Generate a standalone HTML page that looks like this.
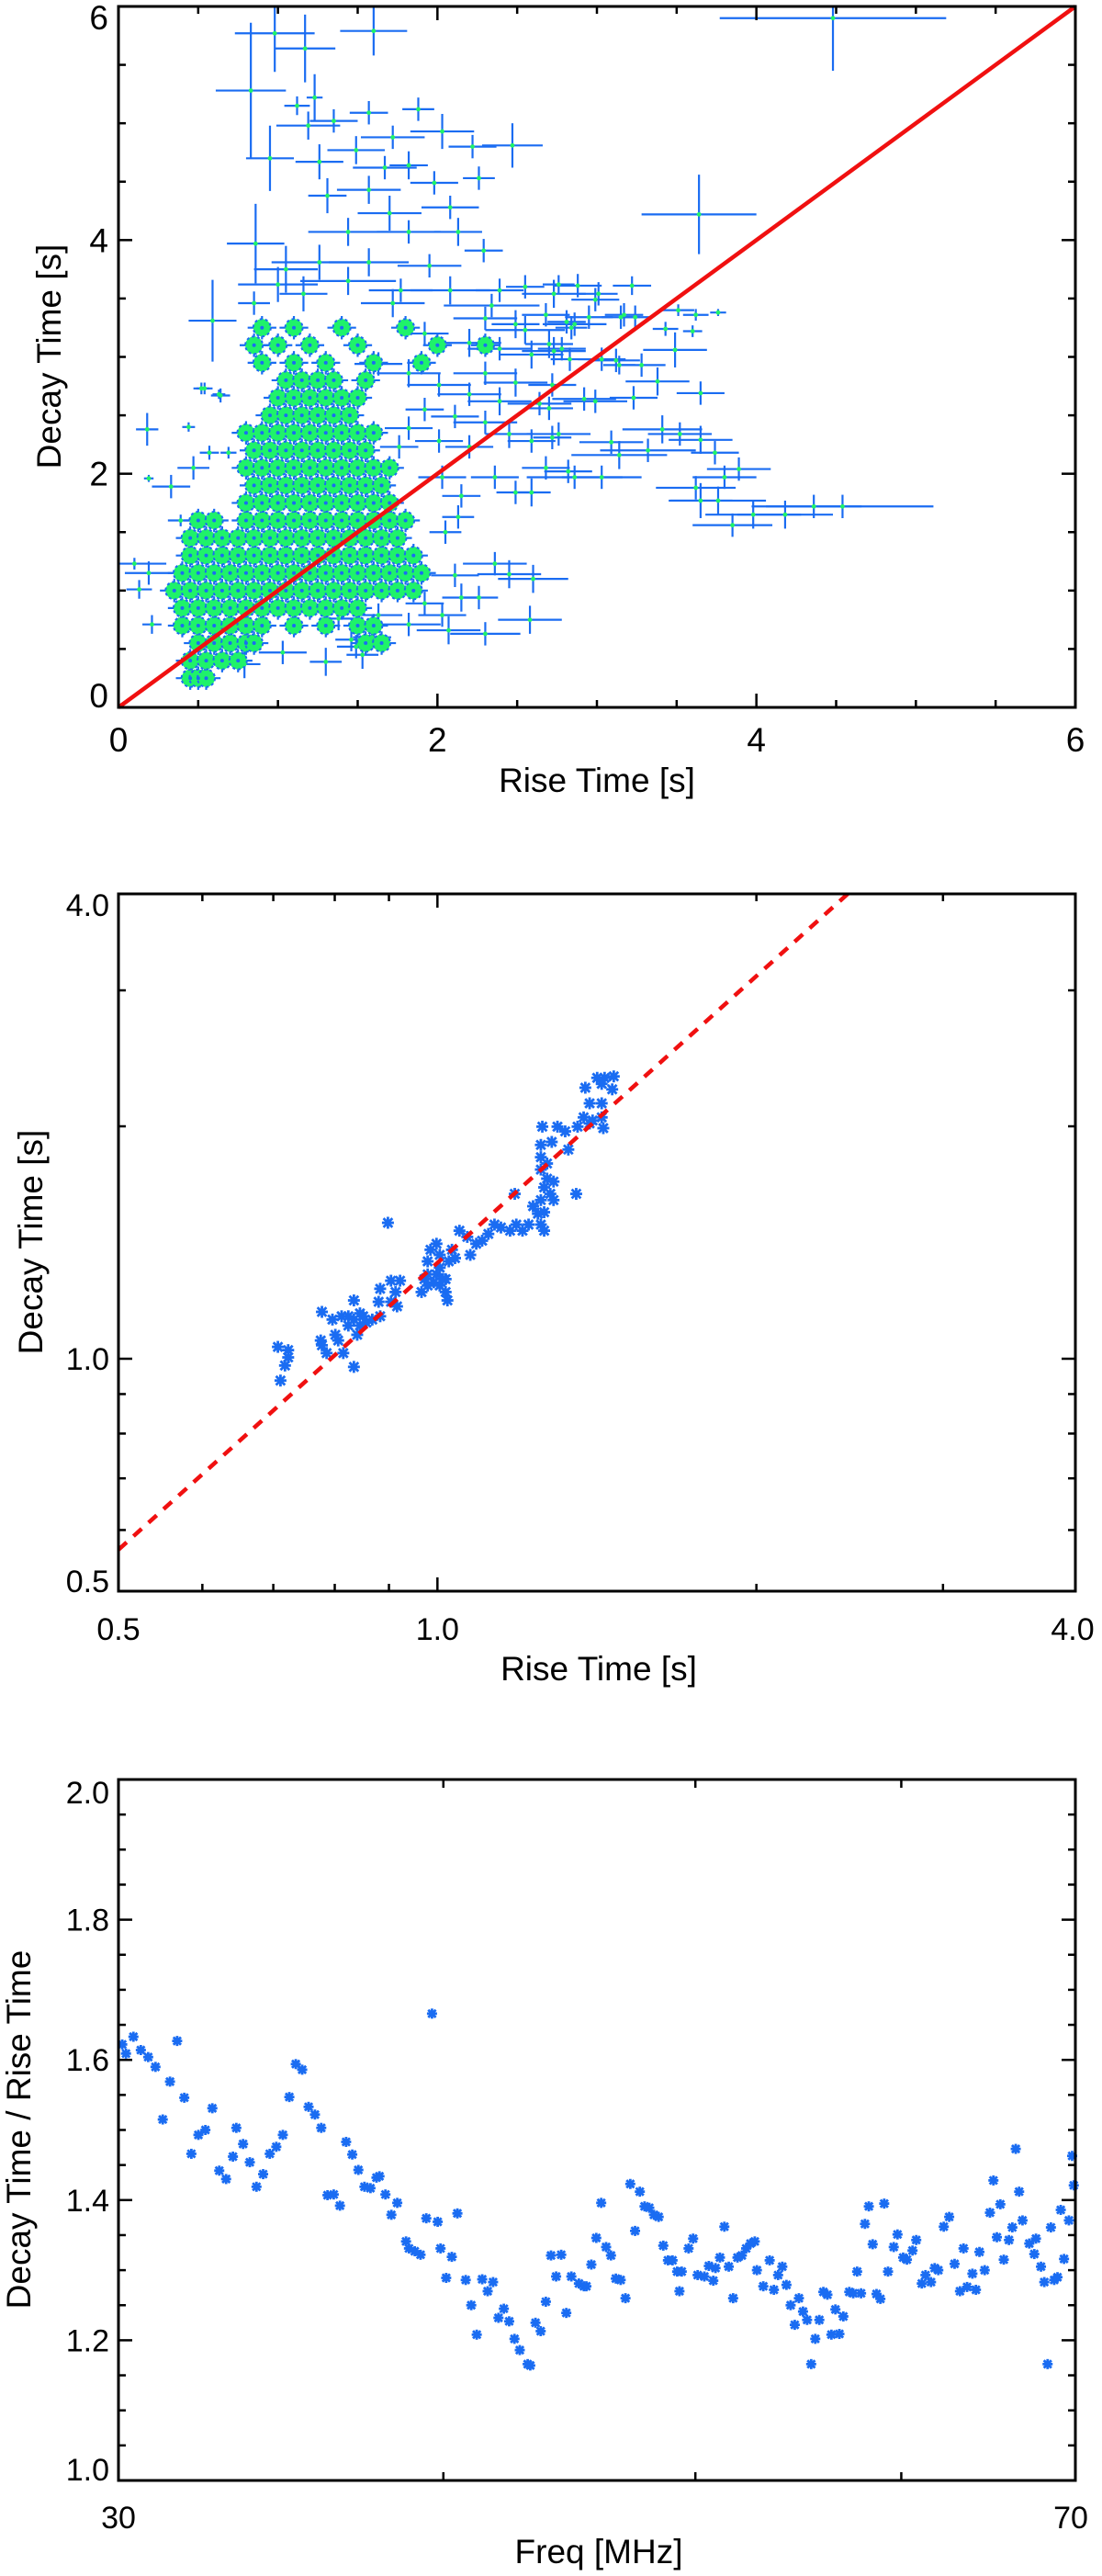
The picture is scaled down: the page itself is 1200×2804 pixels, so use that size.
<!DOCTYPE html>
<html><head><meta charset="utf-8">
<style>
html,body{margin:0;padding:0;background:#fff;}
svg{display:block;}
text{font-family:"Liberation Sans",Arial,sans-serif;fill:#000;}
</style></head>
<body>
<svg id="fig" width="1200" height="2804" viewBox="0 0 1200 2804" xmlns="http://www.w3.org/2000/svg">
<g id="p1"></g>
<g id="p2"></g>
<g id="p3"></g>
</svg>
<script>
// ---------- Panel 1 data ----------
const coreDecayRows = [0.25,0.4,0.55,0.7,0.85,1.0,1.15,1.3,1.45,1.6,1.75,1.9,2.05,2.2,2.35,2.5,2.65,2.8,2.95,3.1,3.25];
const coreRiseRows = [
 [0.45,0.5,0.55],
 [0.45,0.55,0.65,0.75],
 [0.5,0.6,0.7,0.8,0.85,1.55,1.65],
 [0.4,0.5,0.6,0.7,0.8,0.9,1.1,1.3,1.5,1.6],
 [0.4,0.5,0.6,0.7,0.8,0.9,1.0,1.1,1.2,1.3,1.4,1.5],
 [0.35,0.45,0.55,0.65,0.75,0.85,0.95,1.05,1.15,1.25,1.35,1.45,1.55,1.65,1.75,1.85],
 [0.4,0.5,0.6,0.7,0.8,0.9,1.0,1.1,1.2,1.3,1.4,1.5,1.6,1.7,1.8,1.9],
 [0.45,0.55,0.65,0.75,0.85,0.95,1.05,1.15,1.25,1.35,1.45,1.55,1.65,1.75,1.85],
 [0.45,0.55,0.65,0.75,0.85,0.95,1.05,1.15,1.25,1.35,1.45,1.55,1.65,1.75],
 [0.5,0.6,0.8,0.9,1.0,1.1,1.2,1.3,1.4,1.5,1.6,1.7,1.8],
 [0.8,0.9,1.0,1.1,1.2,1.3,1.4,1.5,1.6,1.7],
 [0.85,0.95,1.05,1.15,1.25,1.35,1.45,1.55,1.65],
 [0.8,0.9,1.0,1.1,1.2,1.3,1.4,1.5,1.6,1.7],
 [0.85,0.95,1.05,1.15,1.25,1.35,1.45,1.55],
 [0.8,0.9,1.0,1.1,1.2,1.3,1.4,1.5,1.6],
 [0.95,1.05,1.15,1.25,1.35,1.45],
 [1.0,1.1,1.2,1.3,1.4,1.5],
 [1.05,1.15,1.25,1.35,1.55],
 [0.9,1.1,1.3,1.6,1.9],
 [0.85,1.0,1.2,1.5,2.0,2.3],
 [0.9,1.1,1.4,1.8]
];
const coreRiseErr = 0.09;
const coreDecayErr = 0.1;
const scatRise = [4.48,3.64,0.98,1.17,1.60,0.83,0.95,0.86,0.59,2.47,1.88,1.12,1.23,2.26,0.18,0.44,0.52,0.64,
1.19,1.35,1.57,2.03,2.22,1.72,1.49,1.26,1.67,1.82,1.98,1.57,1.31,2.08,1.70,1.44,1.82,2.13,1.26,1.57,1.95,2.29,1.05,1.00,1.44,1.77,2.08,2.34,2.73,2.99,3.17,2.86,2.55,3.12,2.73,0.85,1.16,
4.54,4.36,4.18,3.98,3.85,3.76,3.65,3.62,3.80,3.89,3.74,3.65,3.52,3.41,3.32,3.14,3.03,2.86,3.09,3.23,3.38,3.65,3.49,3.28,2.92,2.99,3.76,3.62,3.60,3.43,3.51,3.22,2.88,3.01,2.95,3.15,3.24,2.81,2.70,2.83,3.03,3.14,2.70,2.76,
0.19,0.63,0.54,0.10,0.19,0.13,0.21,0.33,0.39,0.47,0.57,0.69,2.36,2.45,2.60,2.58,2.30,2.11,2.15,2.26,2.03,2.07,2.05,2.13,2.15,2.59,2.49,2.36,2.03,2.68,2.82,
1.30,1.49,1.53,1.46,1.59,1.03,0.79,1.38,1.63,1.82,1.92,
2.39,2.55,2.76,2.30,2.49,2.68,2.84,2.20,2.39,2.59,2.78,2.30,2.49,2.72,2.20,2.39,2.64,2.11,2.30,2.45,2.59,2.72,2.01,2.20,2.01,1.82,1.92,1.72,1.63,1.92,1.82,1.76];
const scatDecay = [5.9,4.22,5.77,5.64,5.79,5.28,4.70,3.97,3.31,4.81,5.12,5.15,5.22,4.53,2.38,2.40,2.73,2.67,
4.98,5.02,5.09,4.93,4.80,4.88,4.77,4.67,4.62,4.64,4.49,4.43,4.38,4.28,4.23,4.07,4.07,4.07,3.81,3.81,3.78,3.91,3.75,3.62,3.65,3.57,3.57,3.44,3.54,3.49,3.36,3.28,3.23,2.97,3.05,3.46,3.54,
1.72,1.72,1.65,1.65,1.56,1.77,1.77,1.88,1.97,2.04,2.18,2.29,2.34,2.38,2.20,2.16,1.97,1.97,2.27,2.65,2.79,2.69,3.06,2.93,2.64,2.62,3.38,3.36,3.22,3.24,3.40,3.61,3.61,3.54,3.34,3.34,3.34,3.30,3.11,2.98,2.98,2.93,2.56,2.34,
1.96,2.68,2.73,1.23,1.15,1.01,0.71,1.89,1.60,2.05,2.18,2.18,1.23,1.14,1.10,0.75,0.63,1.13,0.94,0.94,0.79,0.66,1.50,1.63,1.81,1.84,1.84,1.97,1.97,2.05,2.02,
0.39,0.52,0.45,0.58,0.60,0.47,0.37,0.76,0.79,0.71,0.89,
3.57,3.60,3.62,3.33,3.28,3.36,3.25,3.12,3.07,3.02,3.07,2.86,2.78,2.76,2.68,2.62,2.60,2.49,2.44,2.34,2.28,2.31,2.28,2.23,2.76,2.86,3.20,3.46,2.94,2.55,2.39,2.23];
const scatRiseErr = [0.71,0.36,0.25,0.19,0.21,0.22,0.15,0.18,0.15,0.19,0.1,0.08,0.05,0.1,0.07,0.04,0.05,0.06,
0.2,0.15,0.12,0.2,0.15,0.2,0.18,0.15,0.2,0.12,0.15,0.2,0.12,0.18,0.2,0.25,0.2,0.15,0.3,0.25,0.2,0.12,0.2,0.25,0.3,0.2,0.25,0.3,0.2,0.15,0.12,0.2,0.25,0.15,0.2,0.1,0.15,
0.57,0.3,0.3,0.3,0.25,0.3,0.2,0.25,0.2,0.2,0.15,0.2,0.2,0.25,0.3,0.3,0.25,0.3,0.2,0.15,0.2,0.15,0.2,0.15,0.2,0.2,0.05,0.08,0.06,0.08,0.1,0.12,0.15,0.12,0.15,0.12,0.1,0.12,0.15,0.12,0.15,0.1,0.15,0.2,
0.03,0.04,0.05,0.2,0.15,0.08,0.06,0.12,0.08,0.1,0.06,0.05,0.2,0.2,0.22,0.2,0.22,0.15,0.12,0.12,0.15,0.2,0.1,0.1,0.12,0.12,0.12,0.15,0.15,0.15,0.15,
0.1,0.12,0.1,0.1,0.12,0.15,0.1,0.12,0.15,0.2,0.12,
0.15,0.12,0.1,0.2,0.15,0.15,0.1,0.2,0.2,0.2,0.15,0.2,0.2,0.15,0.2,0.2,0.2,0.15,0.2,0.15,0.15,0.12,0.15,0.15,0.2,0.2,0.15,0.2,0.15,0.12,0.15,0.12];
const scatDecayErr = [0.45,0.34,0.33,0.29,0.21,0.58,0.28,0.34,0.35,0.19,0.1,0.08,0.2,0.1,0.14,0.04,0.05,0.06,
0.12,0.1,0.1,0.15,0.1,0.1,0.12,0.15,0.1,0.12,0.1,0.12,0.15,0.1,0.15,0.12,0.1,0.12,0.15,0.12,0.1,0.1,0.2,0.15,0.12,0.1,0.12,0.1,0.12,0.1,0.1,0.1,0.12,0.1,0.12,0.1,0.15,
0.1,0.1,0.12,0.12,0.1,0.12,0.15,0.1,0.1,0.1,0.1,0.12,0.1,0.12,0.1,0.12,0.1,0.1,0.1,0.1,0.12,0.1,0.15,0.1,0.1,0.1,0.03,0.05,0.05,0.06,0.05,0.08,0.1,0.1,0.1,0.1,0.1,0.1,0.12,0.1,0.1,0.08,0.1,0.1,
0.03,0.04,0.05,0.05,0.1,0.08,0.08,0.1,0.05,0.1,0.06,0.05,0.1,0.12,0.12,0.12,0.1,0.1,0.12,0.1,0.1,0.12,0.1,0.1,0.1,0.12,0.1,0.1,0.1,0.1,0.1,
0.12,0.1,0.12,0.1,0.08,0.1,0.12,0.1,0.1,0.1,0.1,
0.1,0.1,0.08,0.1,0.12,0.1,0.1,0.12,0.1,0.12,0.1,0.1,0.12,0.1,0.1,0.12,0.1,0.1,0.1,0.12,0.1,0.1,0.1,0.1,0.1,0.12,0.1,0.12,0.1,0.1,0.1,0.1];
const p1XTicks = [0,2,4,6];
const p1YTicks = [0,2,4,6];
const identityLine = [0,6];

// ---------- Panel 2 data ----------
const logRise = [0.707,0.723,0.718,0.723,0.711,0.778,0.776,0.778,0.786,0.796,0.801,0.806,0.815,0.834,0.834,0.812,0.824,0.834,0.845,0.845,0.840,0.857,0.868,0.883,0.880,0.883,0.904,0.922,0.913,0.904,0.916,0.898,
0.966,0.972,0.979,0.985,0.998,1.005,0.992,1.005,1.018,1.022,1.025,1.032,1.039,1.018,0.979,0.998,1.049,1.067,1.074,1.088,1.102,1.117,1.132,1.148,1.171,1.187,1.203,1.219,1.183,
1.231,1.244,1.252,1.261,1.252,1.261,1.269,1.287,1.278,1.287,1.252,1.252,1.252,1.282,1.256,1.298,1.320,1.329,1.352,1.356,1.374,1.392,1.401,1.429,1.434,1.392,1.429,1.379,1.415,1.438,1.467,1.462,1.429,
0.979,1.005,1.012,0.824,0.851,1.269,1.261];
const logDecay = [1.036,1.026,0.980,1.004,0.937,1.150,1.056,1.041,1.017,1.124,1.074,1.056,1.017,0.976,1.190,1.135,1.135,1.124,1.145,1.104,1.074,1.114,1.124,1.135,1.185,1.232,1.262,1.262,1.220,1.185,1.169,1.500,
1.220,1.268,1.337,1.384,1.409,1.312,1.256,1.244,1.220,1.190,1.337,1.384,1.350,1.268,1.244,1.286,1.465,1.438,1.363,1.409,1.422,1.451,1.492,1.479,1.465,1.492,1.465,1.492,1.635,
1.576,1.541,1.492,1.465,1.605,1.667,1.711,1.696,1.635,1.605,1.758,1.824,1.892,1.909,1.998,1.998,1.970,1.866,1.635,1.998,2.054,2.017,2.035,2.054,1.989,2.142,2.142,2.244,2.311,2.311,2.321,2.233,2.270,
1.286,1.363,1.268,1.104,1.135,1.790,1.548];
const fitCoef = [1.331, 1.234]; // decay = a * rise^b
const p2XTicks = [0.5,1.0,4.0];
const p2YTicks = [0.5,1.0,4.0];
const p2Minor = [0.6,0.7,0.8,0.9,2,3];

// ---------- Panel 3 data ----------
const freqMHz = [30.1,30.2,30.4,30.6,30.8,31.0,31.2,31.4,31.6,31.8,32.0,32.2,32.4,32.6,32.8,33.0,33.2,33.3,33.5,33.7,33.9,34.1,34.3,34.5,34.7,34.9,35.1,35.3,35.5,35.7,35.9,36.1,36.3,36.5,36.7,36.9,37.1,37.3,37.5,37.7,37.8,38.0,38.2,38.4,38.7,38.8,39.0,39.2,39.4,39.8,39.9,40.1,40.3,40.5,40.8,41.0,41.2,41.4,41.6,41.8,42.0,42.2,42.4,42.6,42.8,43.1,43.2,43.4,43.6,43.8,44.0,44.2,44.4,44.6,44.8,45.1,45.3,45.4,45.6,45.8,46.0,46.2,46.4,46.6,46.8,47.0,47.2,47.4,47.6,47.8,48.0,48.2,48.4,48.6,48.8,49.0,49.2,49.3,49.4,49.7,49.9,50.1,50.4,50.6,50.8,50.9,51.1,51.3,51.5,51.7,51.9,52.1,52.3,52.5,52.7,52.8,53.1,53.4,53.6,53.8,54.0,54.2,54.4,54.6,54.8,55.0,55.2,55.4,55.6,55.8,56.0,56.2,56.4,56.6,56.8,57.0,57.3,57.5,57.7,57.9,58.1,58.3,58.5,58.7,58.9,59.1,59.3,59.6,59.8,60.1,60.3,60.6,60.8,61.1,61.3,61.6,61.8,62.0,62.3,62.6,62.9,63.2,63.4,63.6,63.9,64.1,64.3,64.6,64.9,65.1,65.3,65.5,65.7,66.0,66.2,66.4,66.6,66.8,67.2,67.5,67.6,67.9,68.1,68.3,68.5,68.7,68.9,69.1,69.3,69.6,69.8,69.9,39.6];
const ratioVals = [1.622,1.609,1.633,1.614,1.604,1.590,1.515,1.569,1.627,1.546,1.466,1.493,1.500,1.531,1.442,1.430,1.462,1.503,1.480,1.454,1.419,1.437,1.466,1.476,1.493,1.547,1.594,1.586,1.533,1.522,1.503,1.407,1.408,1.392,1.483,1.465,1.443,1.419,1.417,1.432,1.434,1.408,1.379,1.396,1.341,1.331,1.327,1.322,1.374,1.369,1.331,1.289,1.319,1.381,1.286,1.250,1.208,1.287,1.270,1.283,1.232,1.245,1.227,1.202,1.186,1.166,1.164,1.225,1.213,1.255,1.321,1.291,1.322,1.239,1.291,1.281,1.277,1.277,1.308,1.346,1.396,1.333,1.321,1.288,1.286,1.260,1.423,1.356,1.412,1.391,1.389,1.379,1.376,1.335,1.314,1.314,1.298,1.270,1.298,1.331,1.345,1.293,1.291,1.306,1.285,1.303,1.318,1.362,1.305,1.260,1.318,1.321,1.331,1.338,1.341,1.300,1.277,1.314,1.272,1.293,1.305,1.279,1.250,1.222,1.260,1.241,1.229,1.166,1.202,1.229,1.269,1.265,1.208,1.244,1.209,1.234,1.269,1.267,1.298,1.267,1.366,1.391,1.337,1.266,1.259,1.395,1.298,1.333,1.351,1.318,1.315,1.328,1.343,1.281,1.293,1.283,1.303,1.300,1.362,1.376,1.309,1.270,1.331,1.276,1.295,1.272,1.326,1.300,1.382,1.428,1.347,1.394,1.315,1.343,1.361,1.473,1.412,1.371,1.338,1.323,1.345,1.305,1.283,1.166,1.361,1.286,1.290,1.386,1.316,1.371,1.463,1.421,1.666];
const p3XTicks = [30,70];
const p3XMinor = [40,50,60];
const p3YTicks = [1.0,1.2,1.4,1.6,1.8,2.0];

// ---------- scales ----------
const L = 129, R = 1171;
const xs1 = v => L + v * (R - L) / 6;
const ys1 = v => 770 - v * (770 - 7) / 6;
const xs2 = v => L + Math.log10(v / 0.5) * (R - L) / Math.log10(8);
const ys2 = v => 1732 - Math.log10(v / 0.5) * (1732 - 973) / Math.log10(8);
const xs3 = f => L + Math.log10(f / 30) * (R - L) / Math.log10(70 / 30);
const ys3 = r => 2700 - (r - 1) * (2700 - 1937);

const NS = 'http://www.w3.org/2000/svg';
const BLUE = '#1a6cf2', GREEN = '#1ff26a';
function mk(parent, tag, attrs, name, inter) {
  const el = document.createElementNS(NS, tag);
  for (const k in attrs) el.setAttribute(k, attrs[k]);
  
  
  parent.appendChild(el);
  return el;
}
function ln(p, x1, y1, x2, y2, c, w, name) {
  return mk(p, 'line', {x1, y1, x2, y2, stroke: c, 'stroke-width': w}, name, false);
}
function txt(p, x, y, s, size, anchor, name, rot) {
  const t = mk(p, 'text', {x, y, 'font-size': size, 'text-anchor': anchor}, name, false);
  if (rot) t.setAttribute('transform', `rotate(-90 ${x} ${y})`);
  t.textContent = s;
  return t;
}
function frame(p, top, bot) {
  mk(p, 'rect', {x: L, y: top, width: R - L, height: bot - top, fill: 'none', stroke: '#000', 'stroke-width': 3}, 'plot-frame', false);
}
function tickPair(p, ax, pos, top, bot, len, name) {
  if (ax === 'x') {
    ln(p, pos, bot, pos, bot - len, '#000', 2.5, name);
    ln(p, pos, top, pos, top + len, '#000', 2.5, name);
  } else {
    ln(p, L, pos, L + len, pos, '#000', 2.5, name);
    ln(p, R, pos, R - len, pos, '#000', 2.5, name);
  }
}
function star(p, cx, cy, s, name) {
  const g = mk(p, 'g', {stroke: BLUE, 'stroke-width': 2.8}, name, false);
  ln(g, cx - s, cy, cx + s, cy, BLUE, 2.8, 'marker-stroke');
  ln(g, cx, cy - s, cx, cy + s, BLUE, 2.8, 'marker-stroke');
  ln(g, cx - s * 0.75, cy - s * 0.75, cx + s * 0.75, cy + s * 0.75, BLUE, 2.8, 'marker-stroke');
  ln(g, cx - s * 0.75, cy + s * 0.75, cx + s * 0.75, cy - s * 0.75, BLUE, 2.8, 'marker-stroke');
}

// ---------- Panel 1 ----------
(function () {
  const p = document.getElementById('p1');
  const crosses = mk(p, 'g', {}, 'error-bar-crosses', false);
  const coreG = mk(p, 'g', {}, 'dense-core-points', false);
  const dots = mk(p, 'g', {}, 'data-point-centers', false);
  const core = [];
  coreDecayRows.forEach((d, i) => coreRiseRows[i].forEach(r => core.push([r, d])));
  scatRise.forEach((r, i) => {
    const d = scatDecay[i], xe = scatRiseErr[i], ye = scatDecayErr[i];
    ln(crosses, xs1(Math.max(0, r - xe)), ys1(d), xs1(r + xe), ys1(d), BLUE, 2.2, 'x-error-bar');
    ln(crosses, xs1(r), ys1(Math.max(0, d - ye)), xs1(r), ys1(Math.min(6, d + ye)), BLUE, 2.2, 'y-error-bar');
  });
  core.forEach(q => {
    ln(crosses, xs1(Math.max(0, q[0] - coreRiseErr)), ys1(q[1]), xs1(q[0] + coreRiseErr), ys1(q[1]), BLUE, 2.2, 'x-error-bar');
    ln(crosses, xs1(q[0]), ys1(Math.max(0, q[1] - coreDecayErr)), xs1(q[0]), ys1(q[1] + coreDecayErr), BLUE, 2.2, 'y-error-bar');
  });
  core.forEach(q => {
    mk(coreG, 'circle', {cx: xs1(q[0]), cy: ys1(q[1]), r: 9.5, fill: GREEN, stroke: BLUE, 'stroke-width': 2, 'stroke-dasharray': '3 3'}, 'core-point', false);
  });
  core.forEach(q => {
    mk(coreG, 'circle', {cx: xs1(q[0]), cy: ys1(q[1]), r: 2, fill: BLUE}, 'core-point-center', false);
  });
  scatRise.forEach((r, i) => {
    mk(dots, 'circle', {cx: xs1(r), cy: ys1(scatDecay[i]), r: 2.4, fill: GREEN}, 'point-center', false);
  });
  ln(p, xs1(identityLine[0]), ys1(identityLine[0]), xs1(identityLine[1]), ys1(identityLine[1]), '#f01010', 4.5, 'one-to-one-line');
  frame(p, 7, 770);
  for (let v = 0; v <= 6.001; v += 0.5) {
    const major = Math.abs(v - Math.round(v / 2) * 2) < 1e-6;
    tickPair(p, 'x', xs1(v), 7, 770, major ? 15 : 8, 'x-tick');
    tickPair(p, 'y', ys1(v), 7, 770, major ? 15 : 8, 'y-tick');
  }
  p1XTicks.forEach(v => txt(p, xs1(v), 818, String(v), 37, 'middle', 'x-tick-label'));
  p1YTicks.forEach(v => {
    let y = ys1(v) + 13;
    if (v === 0) y = 770; if (v === 6) y = 32;
    txt(p, 118, y, String(v), 37, 'end', 'y-tick-label');
  });
  txt(p, 650, 862, 'Rise Time [s]', 37, 'middle', 'x-axis-title');
  txt(p, 66, 388, 'Decay Time [s]', 37, 'middle', 'y-axis-title', true);
})();

// ---------- Panel 2 ----------
(function () {
  const p = document.getElementById('p2');
  const g = mk(p, 'g', {}, 'rise-decay-points', false);
  logRise.forEach((r, i) => star(g, xs2(r), ys2(logDecay[i]), 6.5, 'rise-decay-point'));
  const rA = 0.5, rB = Math.pow(4 / fitCoef[0], 1 / fitCoef[1]);
  mk(p, 'line', {x1: xs2(rA), y1: ys2(fitCoef[0] * Math.pow(rA, fitCoef[1])), x2: xs2(rB), y2: ys2(4), stroke: '#f01010', 'stroke-width': 4.5, 'stroke-dasharray': '12 10'}, 'power-law-fit-line', false);
  frame(p, 973, 1732);
  p2XTicks.forEach(v => tickPair(p, 'x', xs2(v), 973, 1732, 15, 'x-major-tick'));
  p2YTicks.forEach(v => tickPair(p, 'y', ys2(v), 973, 1732, 15, 'y-major-tick'));
  p2Minor.forEach(v => { tickPair(p, 'x', xs2(v), 973, 1732, 8, 'x-minor-tick'); tickPair(p, 'y', ys2(v), 973, 1732, 8, 'y-minor-tick'); });
  p2XTicks.forEach(v => txt(p, Math.min(xs2(v), 1168), 1785, v.toFixed(1), 34, 'middle', 'x-tick-label'));
  p2YTicks.forEach(v => {
    let y = ys2(v) + 12; if (v === 0.5) y = 1733; if (v === 4.0) y = 997;
    txt(p, 119, y, v.toFixed(1), 34, 'end', 'y-tick-label');
  });
  txt(p, 652, 1829, 'Rise Time [s]', 37, 'middle', 'x-axis-title');
  txt(p, 46, 1352, 'Decay Time [s]', 37, 'middle', 'y-axis-title', true);
})();

// ---------- Panel 3 ----------
(function () {
  const p = document.getElementById('p3');
  const g = mk(p, 'g', {}, 'ratio-points', false);
  freqMHz.forEach((f, i) => star(g, xs3(f), ys3(ratioVals[i]), 5.5, 'ratio-point'));
  frame(p, 1937, 2700);
  for (let k = 0; k <= 20; k++) {
    const v = 1 + k * 0.05;
    tickPair(p, 'y', ys3(v), 1937, 2700, k % 4 === 0 ? 15 : 8, 'y-tick');
  }
  p3XMinor.forEach(f => tickPair(p, 'x', xs3(f), 1937, 2700, 9, 'x-tick'));
  p3XTicks.forEach(f => txt(p, Math.min(xs3(f), 1166), 2752, String(f), 34, 'middle', 'x-tick-label'));
  p3YTicks.forEach(v => {
    let y = ys3(v) + 12; if (v === 1.0) y = 2700; if (v === 2.0) y = 1963;
    txt(p, 119, y, v.toFixed(1), 34, 'end', 'y-tick-label');
  });
  txt(p, 652, 2790, 'Freq [MHz]', 37, 'middle', 'x-axis-title');
  txt(p, 33, 2318, 'Decay Time / Rise Time', 37, 'middle', 'y-axis-title', true);
})();
</script>
</body></html>
